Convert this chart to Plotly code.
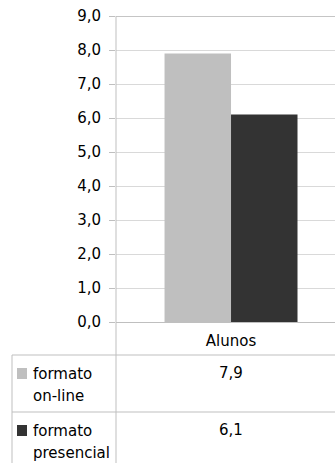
import plotly.graph_objects as go

# ---- data ----
categories = ["Alunos"]
series_names = ["formato on-line", "formato presencial"]
series_values = [[7.9], [6.1]]
series_colors = ["#bfbfbf", "#333333"]
y_ticks = [0, 1, 2, 3, 4, 5, 6, 7, 8, 9]

W, H = 335, 463
ML, MR, MT, MB = 116, 0, 16, 141
PW = W - ML - MR
PH = H - MT - MB
FONT = "DejaVu Sans"
FS = 15
TXT = "#000000"
LINE = "#bfbfbf"

def px_x(p):  # pixel x -> paper x
    return (p - ML) / PW

def px_y(p):  # pixel y -> paper y
    return (H - MB - p) / PH

fig = go.Figure()
for name, vals, col in zip(series_names, series_values, series_colors):
    fig.add_trace(go.Bar(x=categories, y=vals, name=name, marker=dict(color=col, line=dict(width=0)),
                         showlegend=False))

shapes = []
# top border line at max
shapes.append(dict(type="line", xref="paper", yref="y", x0=0, x1=1, y0=max(y_ticks), y1=max(y_ticks),
                   line=dict(color="#8c8c8c", width=1)))
# vertical axis line through table
shapes.append(dict(type="line", xref="paper", yref="paper", x0=0, x1=0, y0=1, y1=px_y(H + 5),
                   line=dict(color=LINE, width=1)))
# table borders
row_tops = [355, 412]
for yt in row_tops:
    shapes.append(dict(type="line", xref="paper", yref="paper", x0=px_x(12), x1=1, y0=px_y(yt), y1=px_y(yt),
                       line=dict(color=LINE, width=1)))
shapes.append(dict(type="line", xref="paper", yref="paper", x0=px_x(12), x1=px_x(12), y0=px_y(355), y1=px_y(H + 5),
                   line=dict(color=LINE, width=1)))

annotations = []
for i, (name, vals, col) in enumerate(zip(series_names, series_values, series_colors)):
    yc = row_tops[i] + 18.5
    # legend key square
    shapes.append(dict(type="rect", xref="paper", yref="paper", x0=px_x(17), x1=px_x(27),
                       y0=px_y(yc - 5.5), y1=px_y(yc + 5.5), fillcolor=col, line=dict(width=0)))
    words = name.split(" ")
    for j, w in enumerate(words):
        annotations.append(dict(xref="paper", yref="paper", x=px_x(31), y=px_y(yc + 22 * j),
                                text=w, showarrow=False, xanchor="left", yanchor="middle",
                                font=dict(family=FONT, size=FS, color=TXT)))
    annotations.append(dict(xref="x", yref="paper", x=categories[0], y=px_y(yc - 1),
                            text=f"{vals[0]:.1f}".replace(".", ","), showarrow=False,
                            xanchor="center", yanchor="middle",
                            font=dict(family=FONT, size=FS, color=TXT)))

fig.update_layout(
    width=W, height=H,
    margin=dict(l=ML, r=MR, t=MT, b=MB, pad=0),
    paper_bgcolor="white", plot_bgcolor="white",
    separators=",.",
    barmode="group", bargap=0.422, bargroupgap=0,
    font=dict(family=FONT, size=FS, color=TXT),
    shapes=shapes, annotations=annotations,
    xaxis=dict(type="category", range=[-0.5, 0.452], showgrid=False, showline=True, linecolor=LINE,
               ticks="", tickfont=dict(family=FONT, size=FS, color=TXT), ticklabelstandoff=5,
               fixedrange=True),
    yaxis=dict(range=[0, 9], tickvals=y_ticks, tickformat=".1f", showgrid=True, gridcolor="#d9d9d9",
               gridwidth=1, zeroline=False, showline=False, ticks="outside", ticklen=6, tickcolor=LINE,
               tickfont=dict(family=FONT, size=FS, color=TXT), ticklabelstandoff=5, fixedrange=True),
)

fig.write_html("out.html")
